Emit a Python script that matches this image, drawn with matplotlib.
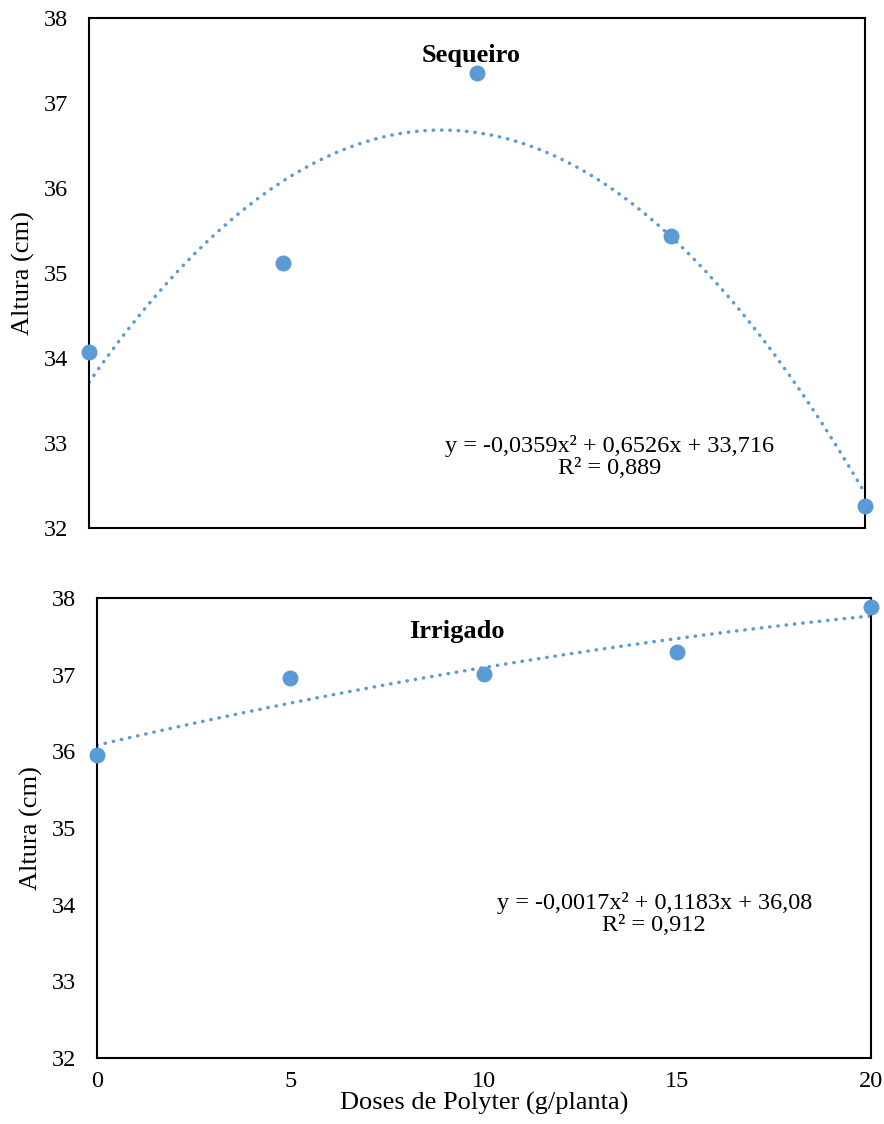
import numpy as np
import matplotlib
matplotlib.use("Agg")
import matplotlib.pyplot as plt

plt.rcParams["font.family"] = ["Liberation Serif", "DejaVu Serif"]

# --- Donnees -------------------------------------------------------------------
doses = [0, 5, 10, 15, 20]
altura_sequeiro = [34.07, 35.12, 37.35, 35.44, 32.26]
altura_irrigado = [35.95, 36.95, 37.01, 37.29, 37.88]

# coefficients des courbes de tendance (a, b, c) : y = a x^2 + b x + c
coef_sequeiro = [-0.0359, 0.6526, 33.716]
coef_irrigado = [-0.0017, 0.1183, 36.08]
eq_sequeiro = "y = -0,0359x\u00b2 + 0,6526x + 33,716\nR\u00b2 = 0,889"
eq_irrigado = "y = -0,0017x\u00b2 + 0,1183x + 36,08\nR\u00b2 = 0,912"

yticks = [32, 33, 34, 35, 36, 37, 38]
xticks = [0, 5, 10, 15, 20]

BLUE = "#5B9BD5"
FS = 17.5   # graduations et equations
FL = 19     # titres d'axes et noms des panneaux

fig = plt.figure(figsize=(8.84, 11.24), dpi=100)
ax1 = fig.add_axes([0.1007, 0.5302, 0.8778, 0.4538])
ax2 = fig.add_axes([0.1097, 0.0587, 0.8756, 0.4093])

xs = np.linspace(0, 20, 200)

for ax, y, coef, eq, eqpos in [
    (ax1, altura_sequeiro, coef_sequeiro, eq_sequeiro, (0.671, 0.139)),
    (ax2, altura_irrigado, coef_irrigado, eq_irrigado, (0.72, 0.313)),
]:
    ax.plot(xs, np.polyval(coef, xs), color=BLUE, lw=2.5,
            linestyle=(0, (0.1, 2.3)), dash_capstyle="round", zorder=2)
    ax.plot(doses, y, "o", color=BLUE, ms=10.5, zorder=3, clip_on=False)
    ax.set_xlim(0, 20)
    ax.set_ylim(32, 38)
    ax.set_yticks(yticks)
    ax.set_xticks(xticks)
    ax.tick_params(length=0, labelsize=FS, pad=15)
    for s in ax.spines.values():
        s.set_linewidth(1.5)
    ax.set_ylabel("Altura (cm)", fontsize=FL, labelpad=6)
    ax.text(eqpos[0], eqpos[1], eq, transform=ax.transAxes, ha="center",
            va="center", fontsize=FS, linespacing=1.1)

ax1.text(0.492, 0.927, "Sequeiro", transform=ax1.transAxes, ha="center",
         va="center", fontsize=FL, fontweight="bold")
ax2.text(0.465, 0.928, "Irrigado", transform=ax2.transAxes, ha="center",
         va="center", fontsize=FL, fontweight="bold")

ax1.tick_params(axis="x", labelbottom=False)
ax2.tick_params(axis="x", pad=9)
ax2.set_xlabel("Doses de Polyter (g/planta)", fontsize=FL, labelpad=0)

fig.savefig("out.png", dpi=100)
